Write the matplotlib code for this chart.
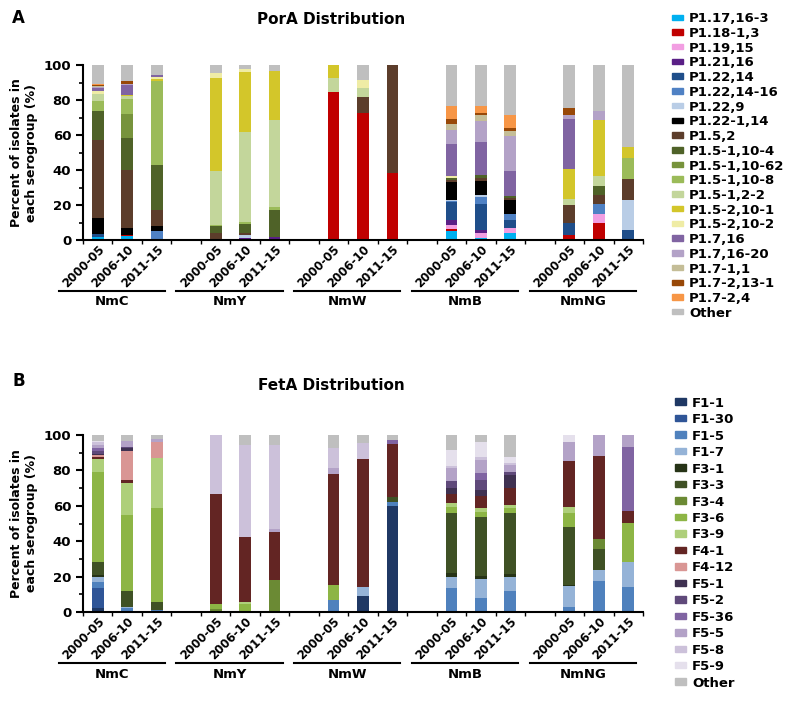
import matplotlib
matplotlib.use("Agg")
import matplotlib.pyplot as plt
from matplotlib.patches import Rectangle
import numpy as np

plt.rcParams['font.family'] = 'DejaVu Sans'
plt.rcParams['font.weight'] = 'bold'

groups = ["NmC", "NmY", "NmW", "NmB", "NmNG"]
periods = ["2000-05", "2006-10", "2011-15"]

porA_types = ["P1.17,16-3", "P1.18-1,3", "P1.19,15", "P1.21,16", "P1.22,14",
              "P1.22,14-16", "P1.22,9", "P1.22-1,14", "P1.5,2", "P1.5-1,10-4",
              "P1.5-1,10-62", "P1.5-1,10-8", "P1.5-1,2-2", "P1.5-2,10-1",
              "P1.5-2,10-2", "P1.7,16", "P1.7,16-20", "P1.7-1,1", "P1.7-2,13-1",
              "P1.7-2,4", "Other"]
porA_colors = ["#00b0f0", "#c00000", "#f29ee2", "#5a1f86", "#1f4e8a",
               "#4f81c4", "#b9cde6", "#000000", "#5c3d2b", "#4f6228",
               "#77933c", "#9bbb59", "#c3d69b", "#d3c62a", "#efeca5",
               "#8064a2", "#b3a2c7", "#c4bd97", "#984807", "#f79646", "#bfbfbf"]

# PorA percentages per bar (segments not listed are 0)
porA_NmC = [
    {"P1.17,16-3": 1.7, "P1.22,14": 1.5, "P1.22-1,14": 9.1, "P1.5,2": 44.6, "P1.5-1,10-4": 16.7,
     "P1.5-1,10-8": 5.7, "P1.5-1,2-2": 4.4, "P1.5-2,10-2": 1.3, "P1.7,16": 1.7, "P1.7,16-20": 1.0,
     "P1.7-1,1": 0.3, "P1.7-2,13-1": 0.5, "P1.7-2,4": 0.5, "Other": 11.0},
    {"P1.17,16-3": 2.1, "P1.18-1,3": 0.5, "P1.21,16": 0.5, "P1.22-1,14": 4.0, "P1.5,2": 32.9,
     "P1.5-1,10-4": 18.2, "P1.5-1,10-62": 13.6, "P1.5-1,10-8": 9.0, "P1.5-1,2-2": 1.5,
     "P1.5-2,10-1": 0.8, "P1.7,16": 5.7, "P1.7,16-20": 0.6, "P1.7-2,13-1": 1.7, "Other": 8.9},
    {"P1.18-1,3": 0.8, "P1.22,14-16": 4.4, "P1.22-1,14": 2.9, "P1.5,2": 9.2, "P1.5-1,10-4": 25.7,
     "P1.5-1,10-8": 47.8, "P1.5-2,10-1": 1.1, "P1.5-2,10-2": 1.2, "P1.7,16": 1.1, "Other": 5.8},
]
porA_NmY = [
    {"P1.18-1,3": 0.6, "P1.5,2": 3.6, "P1.5-1,10-4": 3.8, "P1.5-1,10-8": 0.4, "P1.5-1,2-2": 30.9,
     "P1.5-2,10-1": 53.4, "P1.5-2,10-2": 2.5, "Other": 4.8},
    {"P1.21,16": 1.3, "P1.22,9": 1.3, "P1.5,2": 1.3, "P1.5-1,10-4": 5.4, "P1.5-1,10-8": 1.0,
     "P1.5-1,2-2": 51.3, "P1.5-2,10-1": 34.5, "P1.5-2,10-2": 1.9, "Other": 2.0},
    {"P1.21,16": 1.7, "P1.5-1,10-4": 15.7, "P1.5-1,10-8": 1.5, "P1.5-1,2-2": 49.5,
     "P1.5-2,10-1": 28.3, "Other": 3.3},
]
porA_NmW = [
    {"P1.18-1,3": 84.6, "P1.5-1,2-2": 7.7, "P1.5-2,10-1": 7.7},
    {"P1.18-1,3": 72.8, "P1.5,2": 9.0, "P1.5-1,2-2": 4.8, "P1.5-2,10-2": 4.8, "Other": 8.6},
    {"P1.18-1,3": 38.3, "P1.5,2": 61.7},
]
porA_NmB = [
    {"P1.17,16-3": 5.2, "P1.18-1,3": 1.0, "P1.19,15": 2.5, "P1.21,16": 2.5, "P1.22,14": 10.5,
     "P1.22,14-16": 0.5, "P1.22,9": 0.5, "P1.22-1,14": 10.2, "P1.5,2": 1.5, "P1.5-1,10-4": 0.8,
     "P1.5-1,10-8": 0.5, "P1.5-2,10-2": 1.0, "P1.7,16": 18.2, "P1.7,16-20": 8.2, "P1.7-1,1": 3.3,
     "P1.7-2,13-1": 2.5, "P1.7-2,4": 7.7, "Other": 23.4},
    {"P1.17,16-3": 1.3, "P1.19,15": 2.5, "P1.21,16": 1.9, "P1.22,14": 15.1, "P1.22,14-16": 3.8,
     "P1.22,9": 1.0, "P1.22-1,14": 8.2, "P1.5,2": 1.9, "P1.5-1,10-4": 1.3, "P1.7,16": 19.2,
     "P1.7,16-20": 11.7, "P1.7-1,1": 3.6, "P1.7-2,13-1": 1.1, "P1.7-2,4": 3.8, "Other": 23.6},
    {"P1.17,16-3": 4.2, "P1.19,15": 2.9, "P1.22,14": 4.2, "P1.22,14-16": 3.3, "P1.22-1,14": 8.2,
     "P1.5,2": 1.0, "P1.5-1,10-4": 1.5, "P1.7,16": 14.4, "P1.7,16-20": 19.5, "P1.7-1,1": 2.9,
     "P1.7-2,13-1": 1.9, "P1.7-2,4": 7.3, "Other": 28.7},
]
porA_NmNG = [
    {"P1.18-1,3": 2.7, "P1.22,14": 6.9, "P1.5,2": 10.5, "P1.5-1,2-2": 3.3, "P1.5-2,10-1": 17.2,
     "P1.7,16": 28.4, "P1.7,16-20": 2.7, "P1.7-2,13-1": 3.8, "Other": 24.5},
    {"P1.18-1,3": 10.0, "P1.19,15": 4.8, "P1.22,14-16": 5.7, "P1.5,2": 5.2, "P1.5-1,10-4": 5.4,
     "P1.5-1,2-2": 5.4, "P1.5-2,10-1": 32.0, "P1.7,16-20": 5.2, "Other": 26.3},
    {"P1.22,14": 5.6, "P1.22,9": 17.2, "P1.5,2": 12.1, "P1.5-1,10-8": 11.8, "P1.5-2,10-1": 6.4,
     "Other": 46.9},
]

fetA_types = ["F1-1", "F1-30", "F1-5", "F1-7", "F3-1", "F3-3", "F3-4", "F3-6", "F3-9",
              "F4-1", "F4-12", "F5-1", "F5-2", "F5-36", "F5-5", "F5-8", "F5-9", "Other"]
fetA_colors = ["#1f3864", "#2f5597", "#4f81bd", "#95b3d7", "#263316", "#3f5125",
               "#6b8a34", "#8db545", "#aecf7a", "#632523", "#d99694", "#3f3151",
               "#5f497a", "#8064a2", "#b3a2c7", "#ccc1da", "#e5e0ec", "#bfbfbf"]

fetA_NmC = [
    {"F1-1": 2.0, "F1-30": 11.4, "F1-5": 3.7, "F1-7": 2.5, "F3-1": 1.3, "F3-3": 7.5, "F3-6": 50.8,
     "F3-9": 7.0, "F4-1": 1.5, "F4-12": 1.0, "F5-1": 0.8, "F5-2": 1.5, "F5-36": 1.5, "F5-5": 2.0,
     "F5-8": 1.5, "F5-9": 0.8, "Other": 3.2},
    {"F1-1": 0.5, "F1-5": 1.5, "F1-7": 1.0, "F3-3": 8.9, "F3-6": 42.9, "F3-9": 17.9, "F4-1": 1.8,
     "F4-12": 16.6, "F5-1": 1.3, "F5-2": 1.0, "F5-5": 3.2, "Other": 3.4},
    {"F1-5": 1.0, "F3-3": 4.5, "F3-6": 53.0, "F3-9": 28.3, "F4-12": 9.4, "F5-5": 1.3, "Other": 2.5},
]
fetA_NmY = [
    {"F3-4": 1.5, "F3-6": 3.0, "F4-1": 61.9, "F5-5": 0.4, "F5-8": 33.2},
    {"F3-6": 4.5, "F3-9": 1.0, "F4-1": 37.0, "F5-8": 51.8, "Other": 5.7},
    {"F3-4": 18.1, "F4-1": 27.3, "F5-5": 1.3, "F5-8": 47.6, "Other": 5.7},
]
fetA_NmW = [
    {"F1-5": 7.0, "F3-6": 8.2, "F4-1": 62.7, "F5-5": 3.6, "F5-8": 11.3, "Other": 7.2},
    {"F1-1": 9.0, "F1-7": 4.9, "F4-1": 72.3, "F5-8": 9.4, "Other": 4.4},
    {"F1-1": 59.9, "F1-5": 2.4, "F3-3": 2.5, "F4-1": 30.1, "F5-36": 2.2, "Other": 2.9},
]
fetA_NmB = [
    {"F1-5": 13.4, "F1-7": 6.6, "F3-1": 1.8, "F3-3": 33.9, "F3-6": 3.4, "F3-9": 2.6, "F4-1": 4.7,
     "F5-1": 3.4, "F5-2": 4.4, "F5-5": 6.9, "F5-8": 1.4, "F5-9": 9.0, "Other": 8.5},
    {"F1-5": 8.0, "F1-7": 10.6, "F3-1": 1.7, "F3-3": 33.5, "F3-6": 2.8, "F3-9": 2.3, "F4-1": 6.6,
     "F5-1": 3.4, "F5-2": 5.6, "F5-36": 3.8, "F5-5": 7.5, "F5-8": 1.5, "F5-9": 8.9, "Other": 3.8},
    {"F1-5": 12.0, "F1-7": 8.0, "F3-1": 1.5, "F3-3": 34.6, "F3-6": 2.4, "F3-9": 1.9, "F4-1": 9.4,
     "F5-1": 7.6, "F5-2": 1.8, "F5-5": 3.8, "F5-8": 1.3, "F5-9": 3.0, "Other": 12.7},
]
fetA_NmNG = [
    {"F1-5": 3.0, "F1-7": 11.7, "F3-1": 0.6, "F3-3": 32.9, "F3-6": 7.5, "F3-9": 3.4, "F4-1": 26.2,
     "F5-5": 10.9, "F5-9": 3.8},
    {"F1-5": 17.5, "F1-7": 6.2, "F3-3": 11.7, "F3-4": 5.6, "F4-1": 47.3, "F5-5": 11.7},
    {"F1-5": 14.3, "F1-7": 14.1, "F3-6": 21.7, "F4-1": 7.1, "F5-36": 35.8, "F5-5": 7.0},
]

W, H = 785, 706
fig = plt.figure(figsize=(W / 100, H / 100), dpi=100)

positions = [0, 1, 2, 4, 5, 6, 8, 9, 10, 12, 13, 14, 16, 17, 18]


def draw_panel(ax, bars, types, colors):
    bottoms = np.zeros(len(bars))
    for t, c in zip(types, colors):
        vals = np.array([b.get(t, 0.0) for b in bars])
        ax.bar(positions, vals, bottom=bottoms, width=0.4, color=c, edgecolor='none')
        bottoms += vals
    ax.set_xlim(-0.5, 18.5)
    ax.set_ylim(0, 100)
    ax.spines['top'].set_visible(False)
    ax.spines['right'].set_visible(False)
    for s in ['left', 'bottom']:
        ax.spines[s].set_linewidth(1.5)
    ax.set_yticks(range(0, 101, 20))
    ax.set_yticks(range(10, 100, 20), minor=True)
    ax.tick_params(axis='y', which='major', length=5, width=1.5, labelsize=9.5)
    ax.tick_params(axis='y', which='minor', length=3, width=1.2)
    ax.set_xticks(positions)
    ax.set_xticklabels(periods * 5, rotation=45, ha='right', rotation_mode='anchor',
                       fontsize=8.5, fontweight='bold')
    ax.set_xticks(np.arange(-0.5, 18.6, 1.0), minor=True)
    ax.tick_params(axis='x', which='major', length=0, pad=2)
    ax.tick_params(axis='x', which='minor', length=3, width=1.0)
    for lbl in ax.get_yticklabels():
        lbl.set_fontweight('bold')
    ax.set_ylabel("Percent of isolates in\neach serogroup (%)", fontsize=9,
                  fontweight='bold', labelpad=4)
    for gi, g in enumerate(groups):
        first, last = positions[gi * 3], positions[gi * 3 + 2]
        x0, x1 = first - 1.33, last + 0.27
        ax.plot([x0, x1], [-0.29, -0.29], color='black', lw=1.5,
                transform=ax.get_xaxis_transform(), clip_on=False)
        ax.text((x0 + x1) / 2, -0.315, g, transform=ax.get_xaxis_transform(),
                ha='center', va='top', fontsize=9.5, fontweight='bold')


def draw_legend(types, colors, x_box, x_text, y_first, step, box_h, fs):
    for i, (t, c) in enumerate(zip(types, colors)):
        yc = y_first + i * step
        fig.patches.append(Rectangle((x_box / W, 1 - (yc + box_h / 2) / H), 11 / W, box_h / H,
                                     transform=fig.transFigure, color=c, figure=fig))
        fig.text(x_text / W, 1 - yc / H, t, ha='left', va='center_baseline',
                 fontsize=fs, fontweight='bold')


axA = fig.add_axes([83 / W, 1 - 240 / H, 560 / W, 175 / H])
draw_panel(axA, porA_NmC + porA_NmY + porA_NmW + porA_NmB + porA_NmNG, porA_types, porA_colors)
axB = fig.add_axes([83 / W, 1 - 612 / H, 560 / W, 177 / H])
draw_panel(axB, fetA_NmC + fetA_NmY + fetA_NmW + fetA_NmB + fetA_NmNG, fetA_types, fetA_colors)

fig.text(331 / W, 1 - 20 / H, "PorA Distribution", ha='center', va='center',
         fontsize=11, fontweight='bold')
fig.text(12 / W, 1 - 18 / H, "A", ha='left', va='center', fontsize=12, fontweight='bold')
fig.text(331 / W, 1 - 385 / H, "FetA Distribution", ha='center', va='center',
         fontsize=11, fontweight='bold')
fig.text(12 / W, 1 - 381 / H, "B", ha='left', va='center', fontsize=12, fontweight='bold')

draw_legend(porA_types, porA_colors, 672, 689, 17.3, 14.72, 5.5, 9.5)
draw_legend(fetA_types, fetA_colors, 675, 692, 401.7, 16.47, 6.5, 9.5)

fig.savefig("out.png", dpi=100)
